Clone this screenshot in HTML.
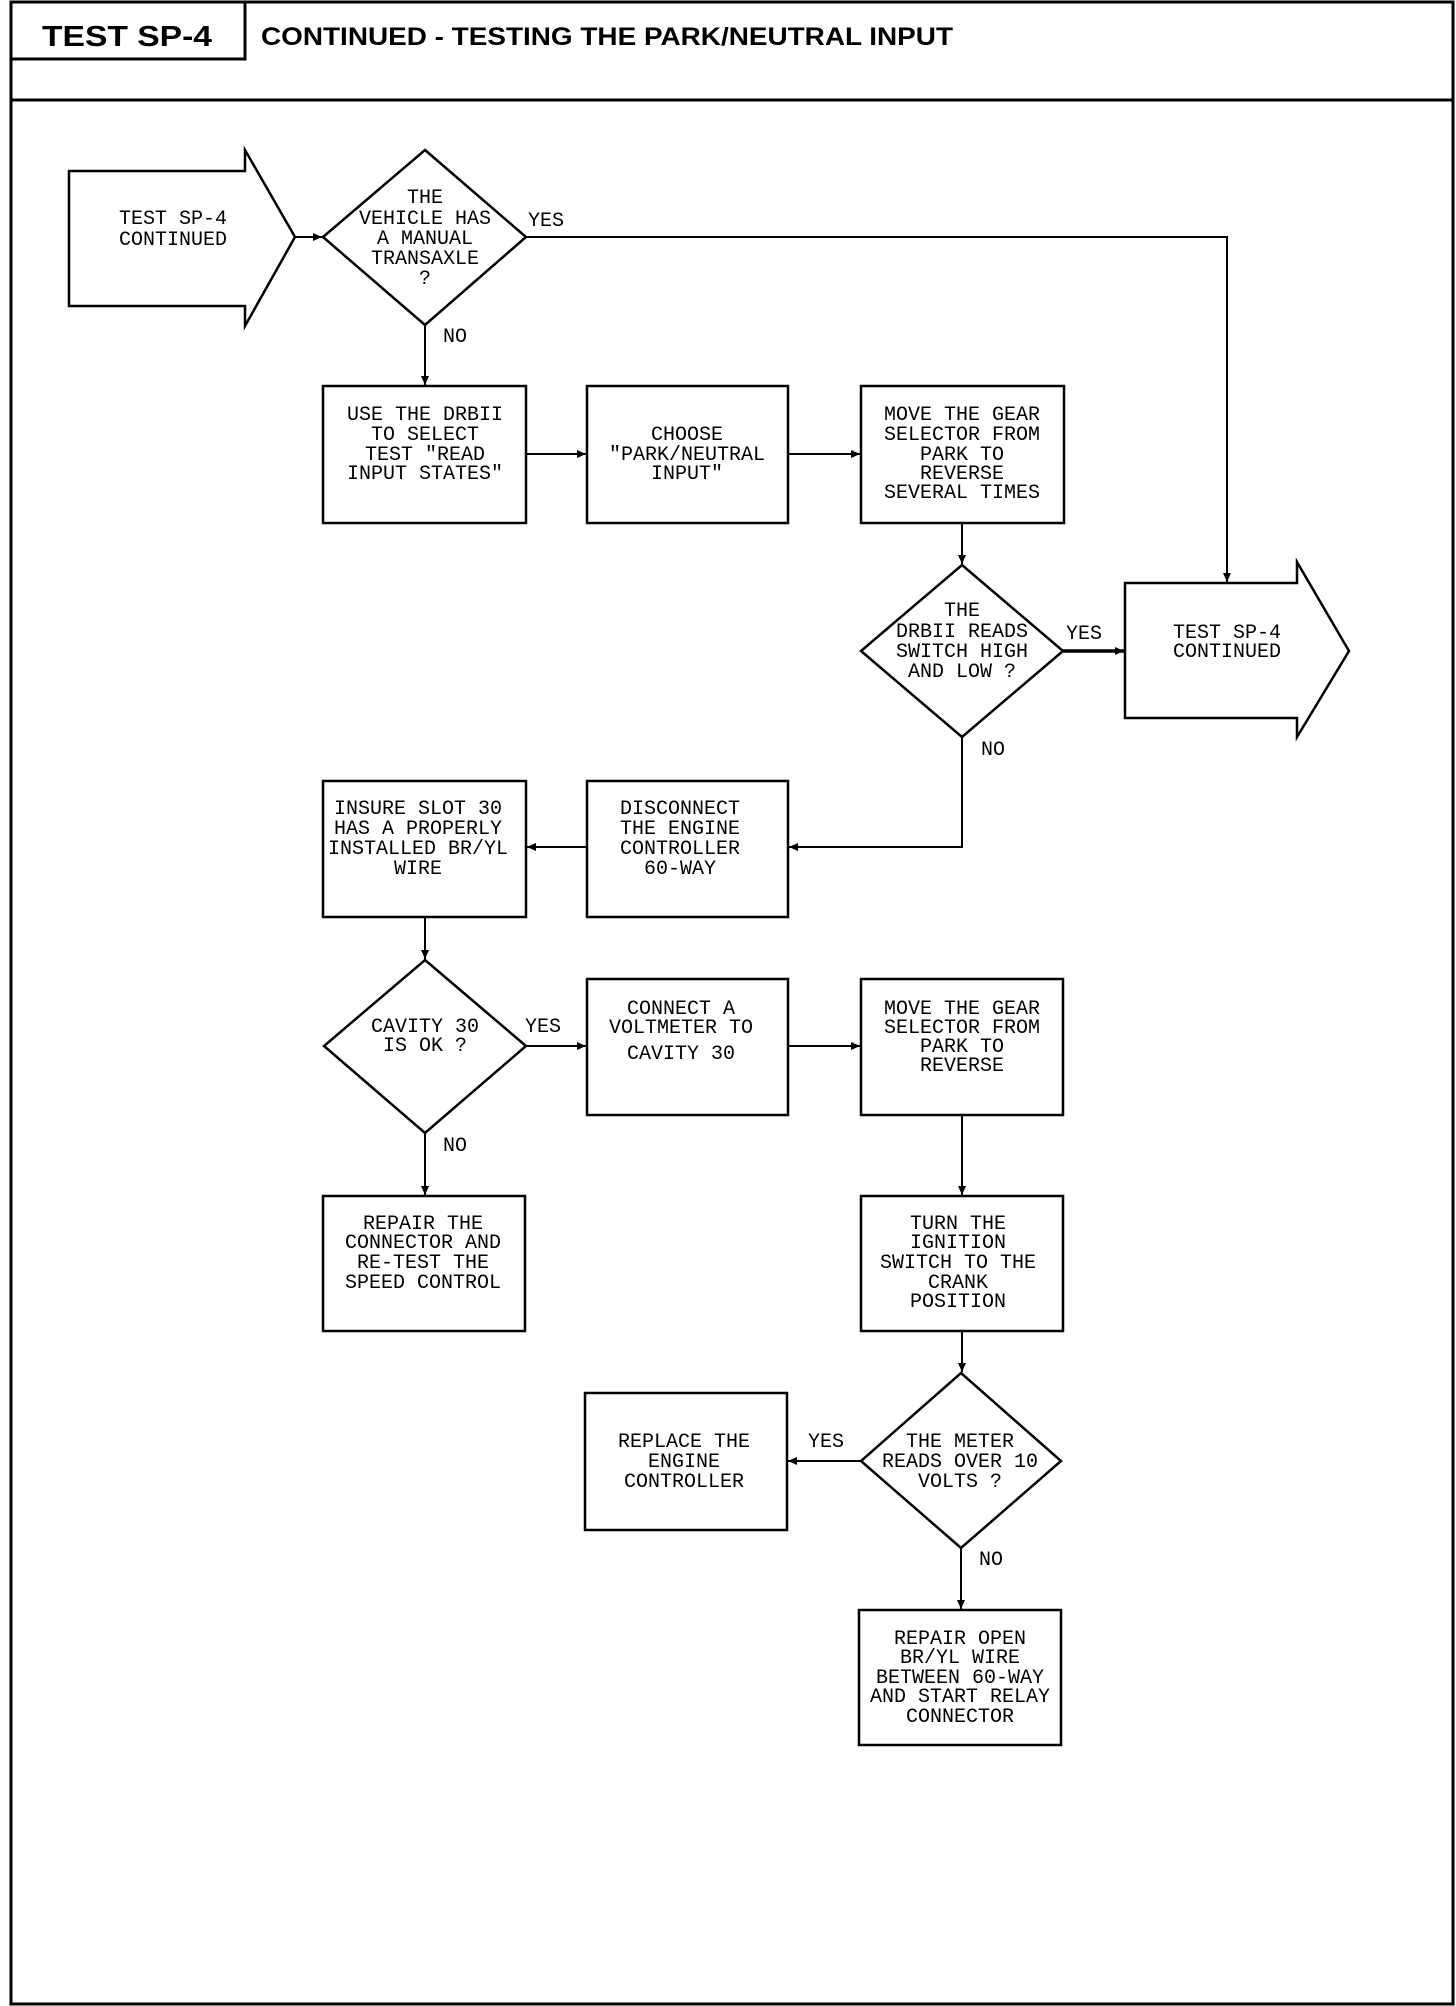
<!DOCTYPE html>
<html><head><meta charset="utf-8"><style>
html,body{margin:0;padding:0;background:#fff;}
svg{display:block;}
.t{font-family:"Liberation Mono",monospace;font-size:20px;text-anchor:middle;fill:#000;}
.l{font-family:"Liberation Mono",monospace;font-size:20px;fill:#000;}
.h{font-family:"Liberation Sans",sans-serif;font-weight:bold;fill:#000;}
</style></head><body>
<svg width="1456" height="2006" viewBox="0 0 1456 2006" xmlns="http://www.w3.org/2000/svg">
<defs><marker id="a" markerWidth="10" markerHeight="10" refX="9" refY="5" orient="auto" markerUnits="userSpaceOnUse"><path d="M0,1 L9,5 L0,9 Z" fill="#000"/></marker></defs>
<g fill="none" stroke="#000">
<rect x="11" y="2" width="1442" height="2002" stroke-width="3"/>
<line x1="11" y1="100" x2="1453" y2="100" stroke-width="3"/>
<rect x="11" y="2" width="234" height="57" stroke-width="3"/>
</g>
<text class="h" x="42" y="46" font-size="29" textLength="170" lengthAdjust="spacingAndGlyphs">TEST SP-4</text>
<text class="h" x="261" y="45" font-size="25" textLength="692" lengthAdjust="spacingAndGlyphs">CONTINUED - TESTING THE PARK/NEUTRAL INPUT</text>
<g fill="none" stroke="#000" stroke-width="2.5">
<polygon points="69,171 245,171 245,150 295,237 245,326 245,306 69,306"/>
<polygon points="425,150 526,237 425,325 323,237"/>
<rect x="323" y="386" width="203" height="137"/>
<rect x="587" y="386" width="201" height="137"/>
<rect x="861" y="386" width="203" height="137"/>
<polygon points="962,565 1063,651 962,737 861,651"/>
<polygon points="1125,583 1297,583 1297,562 1349,651 1297,737 1297,718 1125,718"/>
<rect x="323" y="781" width="203" height="136"/>
<rect x="587" y="781" width="201" height="136"/>
<polygon points="425,960 526,1046 425,1133 324,1046"/>
<rect x="587" y="979" width="201" height="136"/>
<rect x="861" y="979" width="202" height="136"/>
<rect x="323" y="1196" width="202" height="135"/>
<rect x="861" y="1196" width="202" height="135"/>
<polygon points="961,1373 1061,1461 961,1548 861,1461"/>
<rect x="585" y="1393" width="202" height="137"/>
<rect x="859" y="1610" width="202" height="135"/>
</g>
<g fill="none" stroke="#000" stroke-width="2">
<line x1="295" y1="237" x2="322" y2="237" marker-end="url(#a)"/>
<polyline points="526,237 1227,237 1227,582" marker-end="url(#a)"/>
<line x1="425" y1="325" x2="425" y2="385" marker-end="url(#a)"/>
<line x1="526" y1="454" x2="586" y2="454" marker-end="url(#a)"/>
<line x1="788" y1="454" x2="860" y2="454" marker-end="url(#a)"/>
<line x1="962" y1="523" x2="962" y2="564" marker-end="url(#a)"/>
<line x1="1063" y1="651" x2="1124" y2="651" stroke-width="3.5" marker-end="url(#a)"/>
<polyline points="962,737 962,847 789,847" marker-end="url(#a)"/>
<line x1="587" y1="847" x2="527" y2="847" marker-end="url(#a)"/>
<line x1="425" y1="917" x2="425" y2="959" marker-end="url(#a)"/>
<line x1="526" y1="1046" x2="586" y2="1046" marker-end="url(#a)"/>
<line x1="788" y1="1046" x2="860" y2="1046" marker-end="url(#a)"/>
<line x1="425" y1="1133" x2="425" y2="1195" marker-end="url(#a)"/>
<line x1="962" y1="1115" x2="962" y2="1195" marker-end="url(#a)"/>
<line x1="962" y1="1331" x2="962" y2="1372" marker-end="url(#a)"/>
<line x1="861" y1="1461" x2="788" y2="1461" marker-end="url(#a)"/>
<line x1="961" y1="1548" x2="961" y2="1609" marker-end="url(#a)"/>
</g>
<text class="t" x="173" y="224">TEST SP-4</text><text class="t" x="173" y="245">CONTINUED</text>
<text class="t" x="425" y="203">THE</text><text class="t" x="425" y="224">VEHICLE HAS</text><text class="t" x="425" y="244">A MANUAL</text><text class="t" x="425" y="264">TRANSAXLE</text><text class="t" x="425" y="284">?</text>
<text class="l" x="528" y="226">YES</text>
<text class="l" x="443" y="342">NO</text>
<text class="t" x="425" y="420">USE THE DRBII</text><text class="t" x="425" y="440">TO SELECT</text><text class="t" x="425" y="460">TEST "READ</text><text class="t" x="425" y="479">INPUT STATES"</text>
<text class="t" x="687" y="440">CHOOSE</text><text class="t" x="687" y="460">"PARK/NEUTRAL</text><text class="t" x="687" y="479">INPUT"</text>
<text class="t" x="962" y="420">MOVE THE GEAR</text><text class="t" x="962" y="440">SELECTOR FROM</text><text class="t" x="962" y="460">PARK TO</text><text class="t" x="962" y="479">REVERSE</text><text class="t" x="962" y="498">SEVERAL TIMES</text>
<text class="t" x="962" y="616">THE</text><text class="t" x="962" y="637">DRBII READS</text><text class="t" x="962" y="657">SWITCH HIGH</text><text class="t" x="962" y="677">AND LOW ?</text>
<text class="l" x="1066" y="639">YES</text>
<text class="t" x="1227" y="638">TEST SP-4</text><text class="t" x="1227" y="657">CONTINUED</text>
<text class="l" x="981" y="755">NO</text>
<text class="t" x="418" y="814">INSURE SLOT 30</text><text class="t" x="418" y="834">HAS A PROPERLY</text><text class="t" x="418" y="854">INSTALLED BR/YL</text><text class="t" x="418" y="874">WIRE</text>
<text class="t" x="680" y="814">DISCONNECT</text><text class="t" x="680" y="834">THE ENGINE</text><text class="t" x="680" y="854">CONTROLLER</text><text class="t" x="680" y="874">60-WAY</text>
<text class="t" x="425" y="1032">CAVITY 30</text><text class="t" x="425" y="1051">IS OK ?</text>
<text class="l" x="525" y="1032">YES</text>
<text class="t" x="681" y="1014">CONNECT A</text><text class="t" x="681" y="1033">VOLTMETER TO</text><text class="t" x="681" y="1059">CAVITY 30</text>
<text class="t" x="962" y="1014">MOVE THE GEAR</text><text class="t" x="962" y="1033">SELECTOR FROM</text><text class="t" x="962" y="1052">PARK TO</text><text class="t" x="962" y="1071">REVERSE</text>
<text class="l" x="443" y="1151">NO</text>
<text class="t" x="423" y="1229">REPAIR THE</text><text class="t" x="423" y="1248">CONNECTOR AND</text><text class="t" x="423" y="1268">RE-TEST THE</text><text class="t" x="423" y="1288">SPEED CONTROL</text>
<text class="t" x="958" y="1229">TURN THE</text><text class="t" x="958" y="1248">IGNITION</text><text class="t" x="958" y="1268">SWITCH TO THE</text><text class="t" x="958" y="1288">CRANK</text><text class="t" x="958" y="1307">POSITION</text>
<text class="t" x="960" y="1447">THE METER</text><text class="t" x="960" y="1467">READS OVER 10</text><text class="t" x="960" y="1487">VOLTS ?</text>
<text class="l" x="808" y="1447">YES</text>
<text class="t" x="684" y="1447">REPLACE THE</text><text class="t" x="684" y="1467">ENGINE</text><text class="t" x="684" y="1487">CONTROLLER</text>
<text class="l" x="979" y="1565">NO</text>
<text class="t" x="960" y="1644">REPAIR OPEN</text><text class="t" x="960" y="1663">BR/YL WIRE</text><text class="t" x="960" y="1683">BETWEEN 60-WAY</text><text class="t" x="960" y="1702">AND START RELAY</text><text class="t" x="960" y="1722">CONNECTOR</text>
</svg>
</body></html>
